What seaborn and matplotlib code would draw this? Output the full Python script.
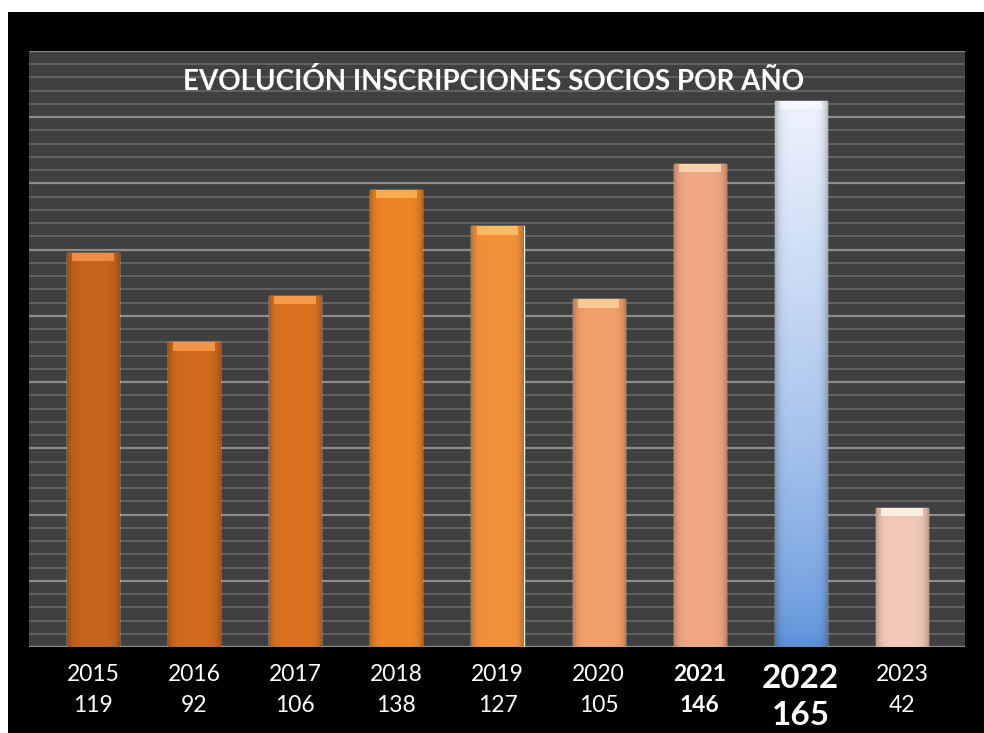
import numpy as np
import pandas as pd
import seaborn as sns
import matplotlib.pyplot as plt
from matplotlib.patches import Rectangle
from matplotlib.ticker import MultipleLocator

# data
years = ["2015", "2016", "2017", "2018", "2019", "2020", "2021", "2022", "2023"]
socios = [119, 92, 106, 138, 127, 105, 146, 165, 42]
bar_colors = ["#C6631D", "#D06A1F", "#DC7222", "#EE8426", "#F3913A",
              "#F4A06A", "#F0A884", "#7FA8E6", "#F2C8B6"]
title = "EVOLUCIÓN INSCRIPCIONES SOCIOS POR AÑO"

df = pd.DataFrame({"year": years, "socios": socios})

sns.set_theme(style="dark")
plt.rcParams["font.family"] = ["Lato", "DejaVu Sans"]

fig = plt.figure(figsize=(9.84, 7.33), dpi=100, facecolor="white")
# black frame behind the chart
fig.patches.append(Rectangle((8 / 984, 0), 1, 1 - 12 / 733, transform=fig.transFigure,
                             facecolor="black", edgecolor="none", zorder=-10))
ax = fig.add_axes([29 / 984, 86 / 733, 936 / 984, 596 / 733])
ax.set_zorder(1)
ax.set_facecolor("#404040")

sns.barplot(data=df, x="year", y="socios", hue="year", palette=bar_colors,
            legend=False, width=0.515, saturation=1, ax=ax, zorder=3)

ax.yaxis.set_major_locator(MultipleLocator(20))
ax.yaxis.set_minor_locator(MultipleLocator(4))
ax.grid(axis="y", which="major", color="#8C8C8C", linewidth=1.6, zorder=1)
ax.grid(axis="y", which="minor", color="#686868", linewidth=1.2, zorder=1)
ax.grid(axis="x", visible=False)
ax.tick_params(axis="y", which="both", left=False, labelleft=False)
ax.tick_params(axis="x", length=0, pad=12)
for s in ax.spines.values():
    s.set_visible(False)
ax.set_xlabel("")
ax.set_ylabel("")

# shading on bars: darker edges, lighter top cap, vertical gradient for 2022
for i, p in enumerate(ax.patches):
    x0, y0 = p.get_x(), p.get_y()
    w, h = p.get_width(), p.get_height()
    xs = np.linspace(-1, 1, 64)
    shade = 0.22 * xs ** 6
    if years[i] == "2022":
        top = np.array([0.93, 0.95, 0.99])
        bot = np.array([0.36, 0.57, 0.86])
        t = np.linspace(0, 1, 128)[:, None, None] ** 0.7
        img = bot * (1 - t) + top * t
        img = img * (1 - shade[None, :, None])
    else:
        base = np.array(plt.matplotlib.colors.to_rgb(bar_colors[i]))
        img = np.tile(base, (1, 64, 1)) * (1 - shade[None, :, None])
    im = ax.imshow(img, extent=(x0, x0 + w, y0, y0 + h), origin="lower",
                   aspect="auto", zorder=4)
    im.set_clip_path(p)
    # light cap
    cap = 2.5
    cap_color = np.clip(np.array(plt.matplotlib.colors.to_rgb(bar_colors[i])) + 0.22, 0, 1)
    if years[i] == "2022":
        cap_color = (0.97, 0.98, 1.0)
    ax.add_patch(Rectangle((x0 + w * 0.1, y0 + h - cap), w * 0.8, cap,
                           facecolor=cap_color, edgecolor="none", zorder=5, alpha=0.75))

ax.set_xlim(-0.634, 8.624)
ax.set_ylim(0, 180)
ax.set_xticks(range(len(years)))
ax.set_xticklabels([f"{y}\n{v}" for y, v in zip(years, socios)])
for lab, y in zip(ax.get_xticklabels(), years):
    lab.set_color("white")
    lab.set_fontsize(16.5)
    lab.set_linespacing(1.6)
    if y == "2021":
        lab.set_fontweight("bold")
    if y == "2022":
        lab.set_fontweight("bold")
        lab.set_fontsize(24)
        lab.set_linespacing(1.35)

ax.text(0.496, 0.972, title, transform=ax.transAxes, ha="center", va="top",
        color="white", fontsize=20, fontweight="bold", zorder=6)

fig.savefig("out.png", dpi=100, facecolor="white")
